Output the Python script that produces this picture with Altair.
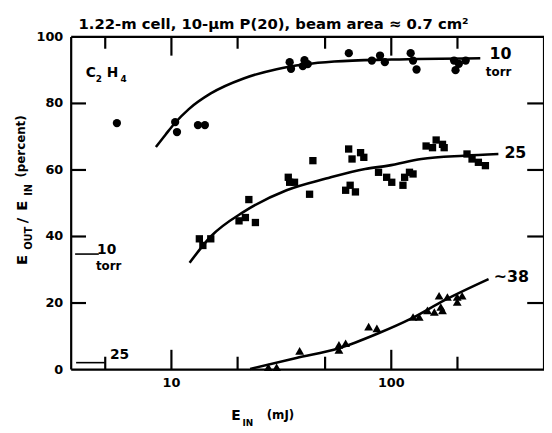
import math
import altair as alt
import pandas as pd

# ---------------- data ----------------
# 10 torr (circles)
c10_E = [5.65, 10.4, 10.6, 13.2, 14.2, 34.5, 35.0, 39.6, 40.3, 41.7, 64.1, 81.6, 88.9, 93.5,
         122.5, 125.6, 130.3, 193, 196, 203, 218]
c10_V = [74.1, 74.4, 71.4, 73.5, 73.5, 92.4, 90.4, 91.2, 93.0, 91.8, 95.1, 92.9, 94.4, 92.4,
         95.1, 92.9, 90.2, 92.9, 90.0, 91.9, 92.9]
# 25 torr (squares)
s25_E = [13.4, 15.1, 13.9, 22.5, 20.3, 21.7, 24.1, 34.0, 34.5, 36.3, 42.5, 44.0, 62.0, 65.0,
         68.7, 64.0, 66.3, 72.5, 75.0, 87.5, 95.3, 100.5, 113, 115, 121, 125.6, 144, 154,
         160, 171, 174, 221, 233, 249, 268]
s25_V = [39.3, 39.3, 37.3, 51.1, 44.7, 45.7, 44.2, 57.8, 56.3, 56.3, 52.7, 62.8, 53.9, 55.4,
         53.4, 66.3, 63.3, 65.2, 63.8, 59.3, 57.8, 56.3, 55.4, 57.8, 59.3, 58.8, 67.2, 66.7,
         69.0, 67.7, 66.7, 64.8, 63.3, 62.3, 61.3]
# ~38 torr (triangles)
t38_E = [27.6, 30.1, 38.3, 57.8, 57.8, 62.0, 78.9, 86.0, 125.6, 134, 146, 157, 165, 168, 171,
         180, 199.5, 210, 199.5]
t38_V = [0.7, 0.7, 5.6, 5.9, 7.4, 7.9, 12.9, 12.4, 15.8, 15.8, 17.8, 17.3, 22.2, 18.8, 17.8,
         21.8, 21.8, 22.2, 20.3]

# fitted curves
f10_E = [8.5, 9.4, 10.4, 12.0, 15.1, 21.3, 30.1, 40.0, 55.0, 100, 254]
f10_V = [66.9, 70.6, 74.2, 78.3, 83.0, 87.5, 90.3, 91.7, 92.6, 93.2, 93.6]
f25_E = [12.1, 15.1, 21.3, 33.4, 50.5, 76.0, 97.0, 137, 214, 307]
f25_V = [32.1, 40.0, 47.4, 53.9, 57.4, 60.3, 61.3, 63.3, 64.3, 64.8]
f38_E = [22.8, 37.0, 57.8, 87.4, 123, 174, 277]
f38_V = [0.2, 3.5, 6.4, 10.9, 15.3, 20.8, 27.2]

# axis ticks and labels
x_domain = [3.5, 495]
y_domain = [0, 100]
x_tick_vals = [5, 10, 20, 50, 100, 200]
x_label_vals = [10, 100]
y_tick_vals = [20, 40, 60, 80]
y_label_vals = [0, 20, 40, 60, 80, 100]

# ---------------- layout ----------------
W, H = 479, 337
FONT = "DejaVu Sans"
xs = alt.Scale(type="log", domain=x_domain, nice=False)
ys = alt.Scale(domain=y_domain, nice=False)
NOAX = dict(axis=None)
PX_PER_DEC = W / math.log10(x_domain[1] / x_domain[0])
PX_PER_UNIT = H / (y_domain[1] - y_domain[0])


def df(E, V):
    return pd.DataFrame({"E": E, "V": V})


def pts(E, V, shape, size):
    return alt.Chart(df(E, V)).mark_point(shape=shape, filled=True, color="black",
                                          opacity=1, size=size).encode(
        x=alt.X("E:Q", scale=xs, **NOAX), y=alt.Y("V:Q", scale=ys, **NOAX))


def curve(E, V):
    return alt.Chart(df(E, V)).mark_line(color="black", strokeWidth=2.6,
                                         interpolate="monotone").encode(
        x=alt.X("E:Q", scale=xs, **NOAX), y=alt.Y("V:Q", scale=ys, **NOAX))


# frame and inward ticks as two-point line paths through the scales
x0, x1 = x_domain
y0, y1 = y_domain
paths = []


def seg(ea, va, eb, vb):
    i = len(paths)
    paths.append((i, 0, ea, va))
    paths.append((i, 1, eb, vb))


seg(x0, y0, x1, y0)
seg(x0, y1, x1, y1)
seg(x0, y0, x0, y1)
seg(x1, y0, x1, y1)
for e in x_tick_vals:
    L = (20 if e in x_label_vals else 13) / PX_PER_UNIT
    seg(e, y0, e, y0 + L)
    seg(e, y1, e, y1 - L + 0.3)
for v in y_tick_vals:
    seg(x0, v, x0 * 10 ** (15 / PX_PER_DEC), v)
    seg(x1, v, x1 / 10 ** (17 / PX_PER_DEC), v)
# keep the path list unique per segment id
pathdf = pd.DataFrame(paths, columns=["sid", "k", "E", "V"])
frame_ticks = alt.Chart(pathdf).mark_line(color="black", strokeWidth=2.2,
                                          interpolate="linear").encode(
    x=alt.X("E:Q", scale=xs, **NOAX), y=alt.Y("V:Q", scale=ys, **NOAX),
    detail="sid:N", order="k:Q")

# pressure-reference marks at the left edge (plot pixels)
pm = pd.DataFrame({"a": [4, 5], "a2": [28, 34], "b": [220, 330]})
pmarks = alt.Chart(pm).mark_rule(color="black", strokeWidth=1.6).encode(
    x=alt.X("a:Q", scale=None, **NOAX), x2="a2:Q", y=alt.Y("b:Q", scale=None, **NOAX))

# text annotations: text, x, y (plot pixels), size, angle
annotations = [
    ("1.22-m  cell,  10-\u03bcm  P(20),  beam  area \u2248 0.7 cm\u00b2", 205, -12.5, 15, 0),
    ("E", -50, 226, 15, 270), ("OUT", -43, 204, 10, 270), ("/", -50, 186, 15, 270),
    ("E", -50, 171, 15, 270), ("IN", -43, 155, 10, 270), ("(percent)", -51, 111, 12, 270),
    ("E", 167, 384, 14, 0), ("IN", 179, 391, 9, 0), ("(mJ)", 212, 383, 12, 0),
    ("C", 20, 37, 14, 0), ("2", 28, 43, 9, 0), ("H", 42, 37, 14, 0), ("4", 53, 43, 9, 0),
    ("10", 435, 17, 16, 0), ("torr", 433, 35.5, 12, 0),
    ("25", 450, 118, 16, 0), ("~38", 446, 243, 16, 0),
    ("10", 36, 216, 14, 0), ("torr", 38, 232, 12, 0),
    ("25", 49, 322, 14, 0),
]
ann = pd.DataFrame(annotations, columns=["t", "x", "y", "s", "a"])
texts = []
for ang in [0, 270]:
    sub = ann[ann.a == ang]
    texts.append(alt.Chart(sub).mark_text(font=FONT, fontWeight="bold", color="black",
                                          align="center", baseline="middle",
                                          angle=ang).encode(
        x=alt.X("x:Q", scale=None, **NOAX), y=alt.Y("y:Q", scale=None, **NOAX),
        text="t:N", size=alt.Size("s:Q", scale=None, legend=None)))

# tick labels
x_labels = alt.Chart(pd.DataFrame({"E": x_label_vals})).mark_text(
    font=FONT, fontSize=13, fontWeight="bold", color="black", baseline="middle",
    dy=14).encode(
    x=alt.X("E:Q", scale=xs, **NOAX), y=alt.value(H), text=alt.Text("E:Q", format="d"))
y_labels = alt.Chart(pd.DataFrame({"V": y_label_vals})).mark_text(
    font=FONT, fontSize=13, fontWeight="bold", color="black", baseline="middle",
    align="right", dx=-8).encode(
    y=alt.Y("V:Q", scale=ys, **NOAX), x=alt.value(0), text=alt.Text("V:Q", format="d"))

chart = alt.layer(
    frame_ticks, pmarks,
    curve(f10_E, f10_V), curve(f25_E, f25_V), curve(f38_E, f38_V),
    pts(c10_E, c10_V, "circle", 70), pts(s25_E, s25_V, "square", 55),
    pts(t38_E, t38_V, "triangle-up", 80),
    x_labels, y_labels,
    *texts,
).properties(
    width=W, height=H,
    autosize=alt.AutoSizeParams(type="none"),
    padding={"left": 64, "top": 26.5, "right": 0, "bottom": 62},
).configure_view(stroke=None).configure(background="white")

chart.save("out.html", embed_options={"renderer": "svg", "actions": False})
